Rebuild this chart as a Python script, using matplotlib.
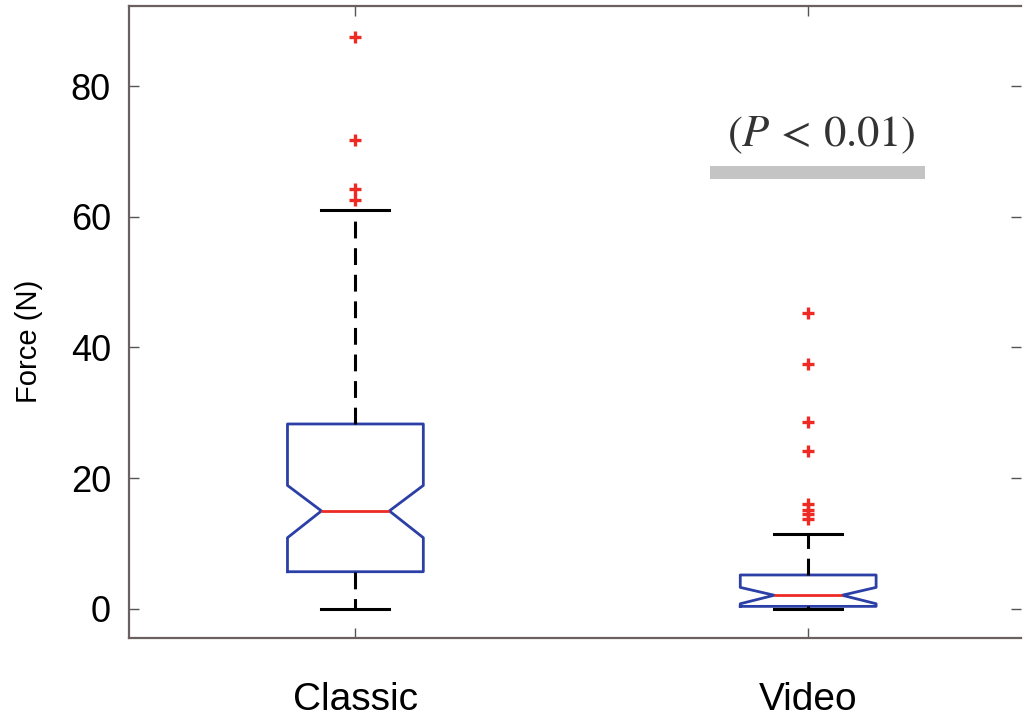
import matplotlib
matplotlib.use("Agg")
import matplotlib.pyplot as plt
from matplotlib.patches import Rectangle

plt.rcParams['font.family'] = ['Liberation Sans', 'DejaVu Sans']
plt.rcParams['mathtext.fontset'] = 'stix'

# values
groups = ['Classic', 'Video']
medians = [15.0, 2.1]
q1 = [5.7, 0.4]
q3 = [28.3, 5.2]
whislo = [0.0, 0.0]
whishi = [61.0, 11.4]
cilo = [10.9, 0.8]
cihi = [18.9, 3.3]
fliers = [
    [62.5, 64.2, 71.7, 87.5],
    [13.8, 14.5, 15.2, 16.0, 24.2, 28.6, 37.5, 45.3],
]
yticks = [0, 20, 40, 60, 80]

stats = []
for i in range(len(groups)):
    stats.append(dict(label=groups[i], med=medians[i], q1=q1[i], q3=q3[i],
                      whislo=whislo[i], whishi=whishi[i],
                      cilo=cilo[i], cihi=cihi[i], fliers=fliers[i]))

fig = plt.figure(figsize=(10.23, 7.21), dpi=100)
ax = fig.add_axes([129 / 1023, 1 - 638 / 721, (1021 - 129) / 1023, (638 - 6) / 721])

blue = '#2b3fa6'
red = '#ee2a24'
ax.bxp(stats, positions=[1, 2], widths=0.3, shownotches=True,
       boxprops=dict(color=blue, linewidth=2.0),
       medianprops=dict(color=red, linewidth=2.0),
       whiskerprops=dict(color='black', linewidth=2.2, linestyle=(0, (5.5, 3.2))),
       capprops=dict(color='black', linewidth=2.2),
       flierprops=dict(marker='+', markeredgecolor=red, markersize=8, markeredgewidth=2.4))

ax.set_xlim(0.5, 2.47)
ax.set_ylim(-4.44, 92.24)
ax.set_yticks(yticks)
ax.set_xticks([1, 2])
ax.set_xticklabels(groups)
ax.tick_params(axis='y', direction='in', length=7, width=1, labelsize=26, pad=13,
               right=True, color='#555555')
ax.tick_params(axis='x', direction='in', length=7, width=1, labelsize=28, pad=32,
               top=True, color='#555555')
ax.set_ylabel('Force (N)', fontsize=21)
ax.yaxis.set_label_coords(-0.096, 0.47)

for side in ['left', 'bottom', 'top']:
    ax.spines[side].set_color('#6a6060')
    ax.spines[side].set_linewidth(1.6)
ax.spines['right'].set_visible(False)

# significance note
ax.add_patch(Rectangle((1.783, 65.8), 0.474, 2.0, color='#c4c4c4', lw=0))
ax.text(2.03, 72.5, r'$(P\,<\,0.01)$', fontsize=32, ha='center', va='center', color='#333333')

fig.savefig('out.png', dpi=100)
